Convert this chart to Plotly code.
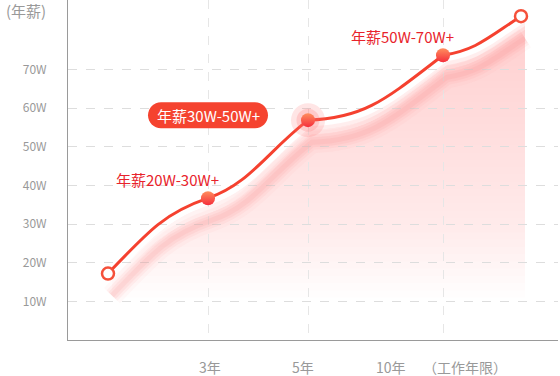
import plotly.graph_objects as go

# ---- data ----
x_pos = [1, 3, 5, 7.7, 9.26]             # horizontal positions of the points
salary = [17.2, 36.7, 56.9, 73.7, 83.8]  # 年薪 (W)
shadow_offset = 5.7
y_ticks = [10, 20, 30, 40, 50, 60, 70]
y_tick_labels = ["10W", "20W", "30W", "40W", "50W", "60W", "70W"]
x_grid = [3, 5, 7.7]
x_tick_labels = ["3年", "5年", "10年"]
x_tick_label_pos = [3.04, 4.9, 6.66]
band_labels = ["年薪20W-30W+", "年薪30W-50W+", "年薪50W-70W+"]
band_label_pos = [(2.18, 41.6), (3.0, 58.2), (6.88, 78.6)]

RED = "#f5412f"
FONT = "Noto Sans CJK SC"

# curve styling: tangent factors (relative to neighbouring secant) entering / leaving each point
TAN_IN = [0, 0.45, 1.0, 1.6, 1.3]
TAN_OUT = [1.4, 0.45, 0.06, 0.3, 0]


def curve_path(xs, ys, dx_off=0.0, dy_off=0.0, close_to=None):
    """Smooth bezier path through the data points (in data coordinates)."""
    n = len(xs)
    sec = [(ys[i + 1] - ys[i]) / (xs[i + 1] - xs[i]) for i in range(n - 1)]
    s = 0.42
    X = [x + dx_off for x in xs]
    Y = [y + dy_off for y in ys]
    p = f"M {X[0]},{Y[0]}"
    for i in range(n - 1):
        d = X[i + 1] - X[i]
        m0 = TAN_OUT[i] * sec[i]
        m1 = TAN_IN[i + 1] * sec[i]
        c1 = (X[i] + d * s, Y[i] + m0 * d * s)
        c2 = (X[i + 1] - d * s, Y[i + 1] - m1 * d * s)
        p += f" C {c1[0]:.4f},{c1[1]:.4f} {c2[0]:.4f},{c2[1]:.4f} {X[i+1]},{Y[i+1]}"
    if close_to is not None:
        p += f" L {X[-1]},{close_to} L {X[0]},{close_to} Z"
    return p


fig = go.Figure()
shapes = []

# area under the curve, faded to white toward the bottom
for dy, al in [(-1.5, 0.35), (-2.5, 0.55), (-3.5, 1.0)]:
    shapes.append(dict(type="path", xref="x", yref="y", layer="below",
                       path=curve_path(x_pos, salary, dx_off=0.08, dy_off=dy, close_to=0),
                       fillcolor=f"rgba(255,205,205,{al})", line=dict(width=0)))
N = 40
top_v, bot_v = 86.0, 11.0
for k in range(1, N + 1):
    a = 1.0 / (N - k + 1)
    t = top_v - (top_v - bot_v) * k / N
    shapes.append(dict(type="rect", xref="x", yref="y", layer="below",
                       x0=x_pos[0] - 0.1, x1=x_pos[-1] + 0.1, y0=0, y1=t,
                       fillcolor=f"rgba(255,255,255,{a:.4f})", line=dict(width=0)))

# blurred shadow of the line
for w, al in [(22, 0.05), (15, 0.08), (10, 0.10), (5, 0.11)]:
    shapes.append(dict(type="path", xref="x", yref="y", layer="between",
                       path=curve_path(x_pos, salary, dx_off=0.08, dy_off=-shadow_offset),
                       line=dict(width=w, color=f"rgba(250,130,130,{al})")))

# main line
shapes.append(dict(type="path", xref="x", yref="y", layer="between",
                   path=curve_path(x_pos, salary), line=dict(width=3, color=RED)))

# pill behind the middle band label
r, hw = 13, 60
k_ = 0.5523 * r
pill = (f"M {-hw+r},{-r} L {hw-r},{-r} "
        f"C {hw-r+k_},{-r} {hw},{-k_} {hw},0 "
        f"C {hw},{k_} {hw-r+k_},{r} {hw-r},{r} "
        f"L {-hw+r},{r} "
        f"C {-hw+r-k_},{r} {-hw},{k_} {-hw},0 "
        f"C {-hw},{-k_} {-hw+r-k_},{-r} {-hw+r},{-r} Z")
shapes.append(dict(type="path", xref="x", yref="y",
                   xsizemode="pixel", ysizemode="pixel",
                   xanchor=band_label_pos[1][0], yanchor=band_label_pos[1][1],
                   path=pill, fillcolor="#f5432f", line=dict(width=0), layer="above"))

# halo around 5年 point
for sz, al in [(34, 0.18), (23, 0.22)]:
    fig.add_trace(go.Scatter(
        x=[x_pos[2]], y=[salary[2]], mode="markers",
        marker=dict(size=sz, color=f"rgba(255,110,110,{al})", line=dict(width=0)),
        hoverinfo="skip", showlegend=False))

# filled markers
fig.add_trace(go.Scatter(
    x=x_pos[1:4], y=salary[1:4], mode="markers",
    marker=dict(size=14, color="#ff8f5e",
                gradient=dict(type="vertical", color="#f52e3c"),
                line=dict(width=0)),
    hoverinfo="skip", showlegend=False))

# hollow end markers
fig.add_trace(go.Scatter(
    x=[x_pos[0], x_pos[-1]], y=[salary[0], salary[-1]], mode="markers",
    marker=dict(size=12, color="white", line=dict(width=2.5, color="#f5503a")),
    hoverinfo="skip", showlegend=False))

annotations = []
for i, (txt, (lx, ly)) in enumerate(zip(band_labels, band_label_pos)):
    annotations.append(dict(
        x=lx, y=ly, xref="x", yref="y", text=txt, showarrow=False,
        font=dict(family=FONT, size=15,
                  color="white" if i == 1 else "#e8232b")))

for txt, lx in zip(x_tick_labels, x_tick_label_pos):
    annotations.append(dict(
        x=lx, y=0, xref="x", yref="paper", yanchor="middle", yshift=-27,
        text=txt, showarrow=False, font=dict(family=FONT, size=14, color="#999999")))

annotations.append(dict(
    x=8.14, y=0, xref="x", yref="paper", yanchor="middle", yshift=-27,
    text="（工作年限）", showarrow=False, font=dict(family=FONT, size=14, color="#999999")))
annotations.append(dict(
    x=0, y=1, xref="paper", yref="paper", xanchor="right", yanchor="middle",
    xshift=-20, yshift=-10,
    text="(年薪)", showarrow=False, font=dict(family=FONT, size=15, color="#999999")))

fig.update_layout(
    width=560, height=376,
    margin=dict(l=68, r=2, t=0, b=36, pad=0, autoexpand=False),
    paper_bgcolor="white", plot_bgcolor="white",
    annotations=annotations, shapes=shapes,
    showlegend=False,
    xaxis=dict(range=[0.2, 10], tickvals=x_grid, showticklabels=False,
               showgrid=True, gridcolor="#e6e6e6", griddash="dash", gridwidth=1,
               zeroline=False, showline=True, linecolor="#9a9a9a", linewidth=1,
               ticks="", fixedrange=True, automargin=False),
    yaxis=dict(range=[0, 88], tickvals=y_ticks, ticktext=y_tick_labels,
               tickfont=dict(family=FONT, size=12, color="#999999"),
               ticklabelstandoff=18,
               showgrid=True, gridcolor="#dddddd", griddash="dash", gridwidth=1,
               zeroline=False, showline=True, linecolor="#9a9a9a", linewidth=1,
               ticks="", fixedrange=True, automargin=False),
)

fig.write_html("out.html", config={"displayModeBar": False},
               post_script="document.body.style.margin='0';document.body.style.overflow='hidden';")
